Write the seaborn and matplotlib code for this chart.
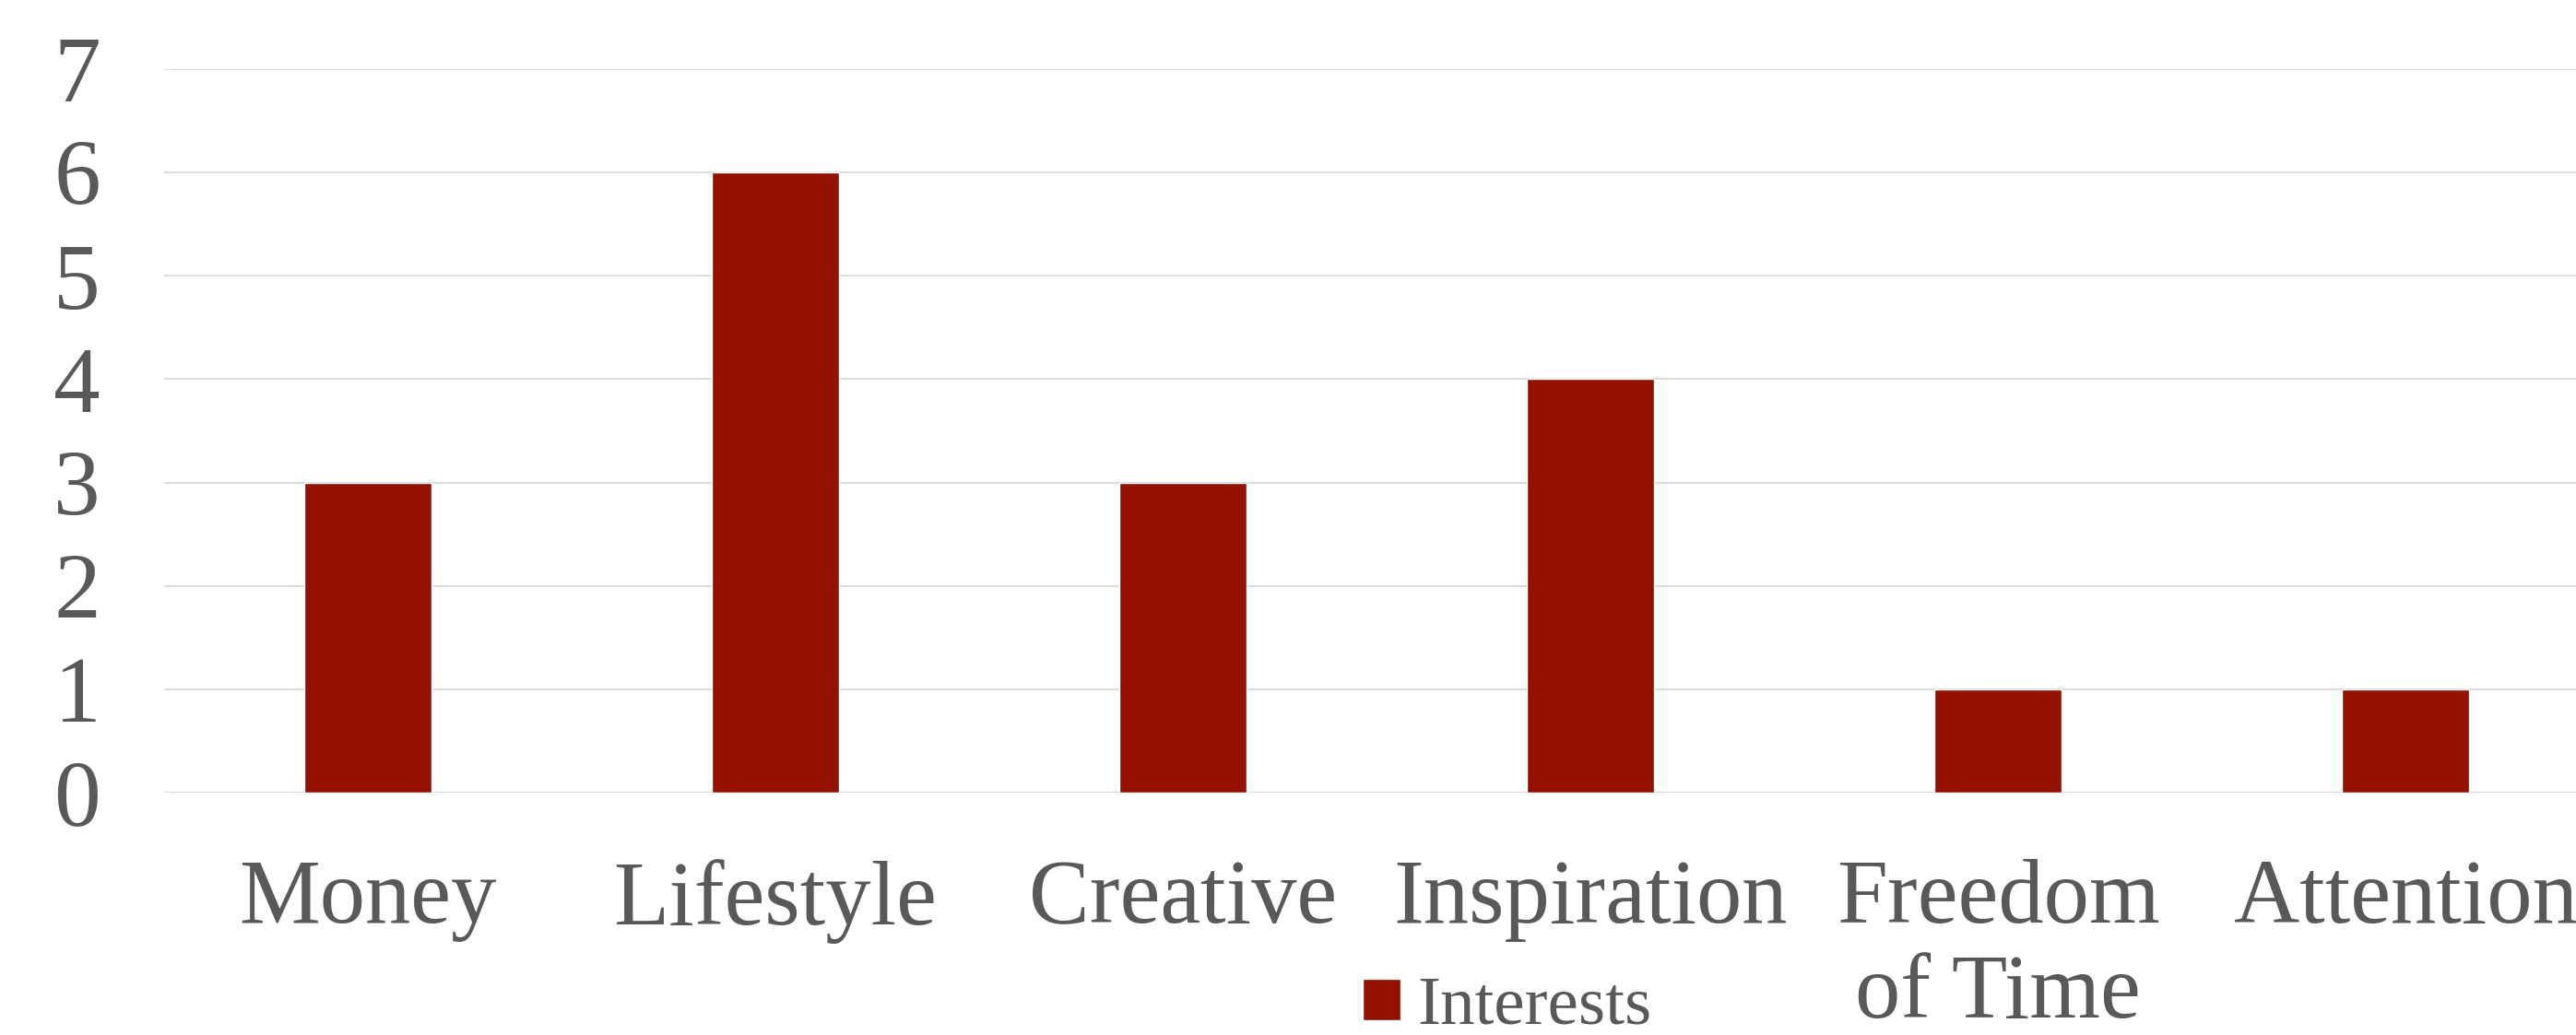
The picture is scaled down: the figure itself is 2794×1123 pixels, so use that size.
import matplotlib
matplotlib.use("Agg")
import matplotlib.pyplot as plt
import seaborn as sns
import pandas as pd

categories = ["Money", "Lifestyle", "Creative", "Inspiration", "Freedom\nof Time", "Attention"]
interests = [3, 6, 3, 4, 1, 1]
yticks = [0, 1, 2, 3, 4, 5, 6, 7]
series_name = "Interests"

sns.set_theme(style="white")
plt.rcParams['font.family'] = ['Liberation Serif', 'DejaVu Serif']

bar_color = "#941100"
text_color = "#595959"
grid_color = "#d9d9d9"

W, H = 2794, 1123
fig = plt.figure(figsize=(W / 100, H / 100), dpi=100)
fig.patch.set_facecolor("white")
ax = fig.add_axes([178 / W, (H - 860) / H, 2652 / W, (860 - 75) / H])

df = pd.DataFrame({"category": categories, "value": interests})
sns.barplot(data=df, x="category", y="value", color=bar_color, width=0.31,
            saturation=1, ax=ax, label=series_name, zorder=3)

ax.set_xlim(-0.5, len(categories) - 0.5)
ax.set_ylim(0, 7)
ax.set_yticks(yticks)
ax.set_yticklabels([str(v) for v in yticks])
ax.set_xlabel("")
ax.set_ylabel("")
for s in ax.spines.values():
    s.set_visible(False)
ax.yaxis.grid(True, color=grid_color, linewidth=1.3, zorder=0)
ax.xaxis.grid(False)
ax.set_axisbelow(True)
ax.tick_params(axis="y", length=0, pad=68, labelsize=73, labelcolor=text_color)
ax.tick_params(axis="x", length=0, pad=52, labelsize=71, labelcolor=text_color)
for lbl in ax.get_yticklabels():
    lbl.set_horizontalalignment("center")
for lbl in ax.get_xticklabels():
    lbl.set_linespacing(1.18)

handles, labels = ax.get_legend_handles_labels()
leg = ax.legend(handles[:1], labels[:1], loc="center left",
                bbox_to_anchor=(1440 / W, (H - 1093) / H),
                bbox_transform=fig.transFigure, frameon=False,
                fontsize=54, handlelength=0.55, handleheight=0.55,
                handletextpad=0.25, borderpad=0, labelcolor=text_color)

fig.savefig("out.png", dpi=100, facecolor="white")
